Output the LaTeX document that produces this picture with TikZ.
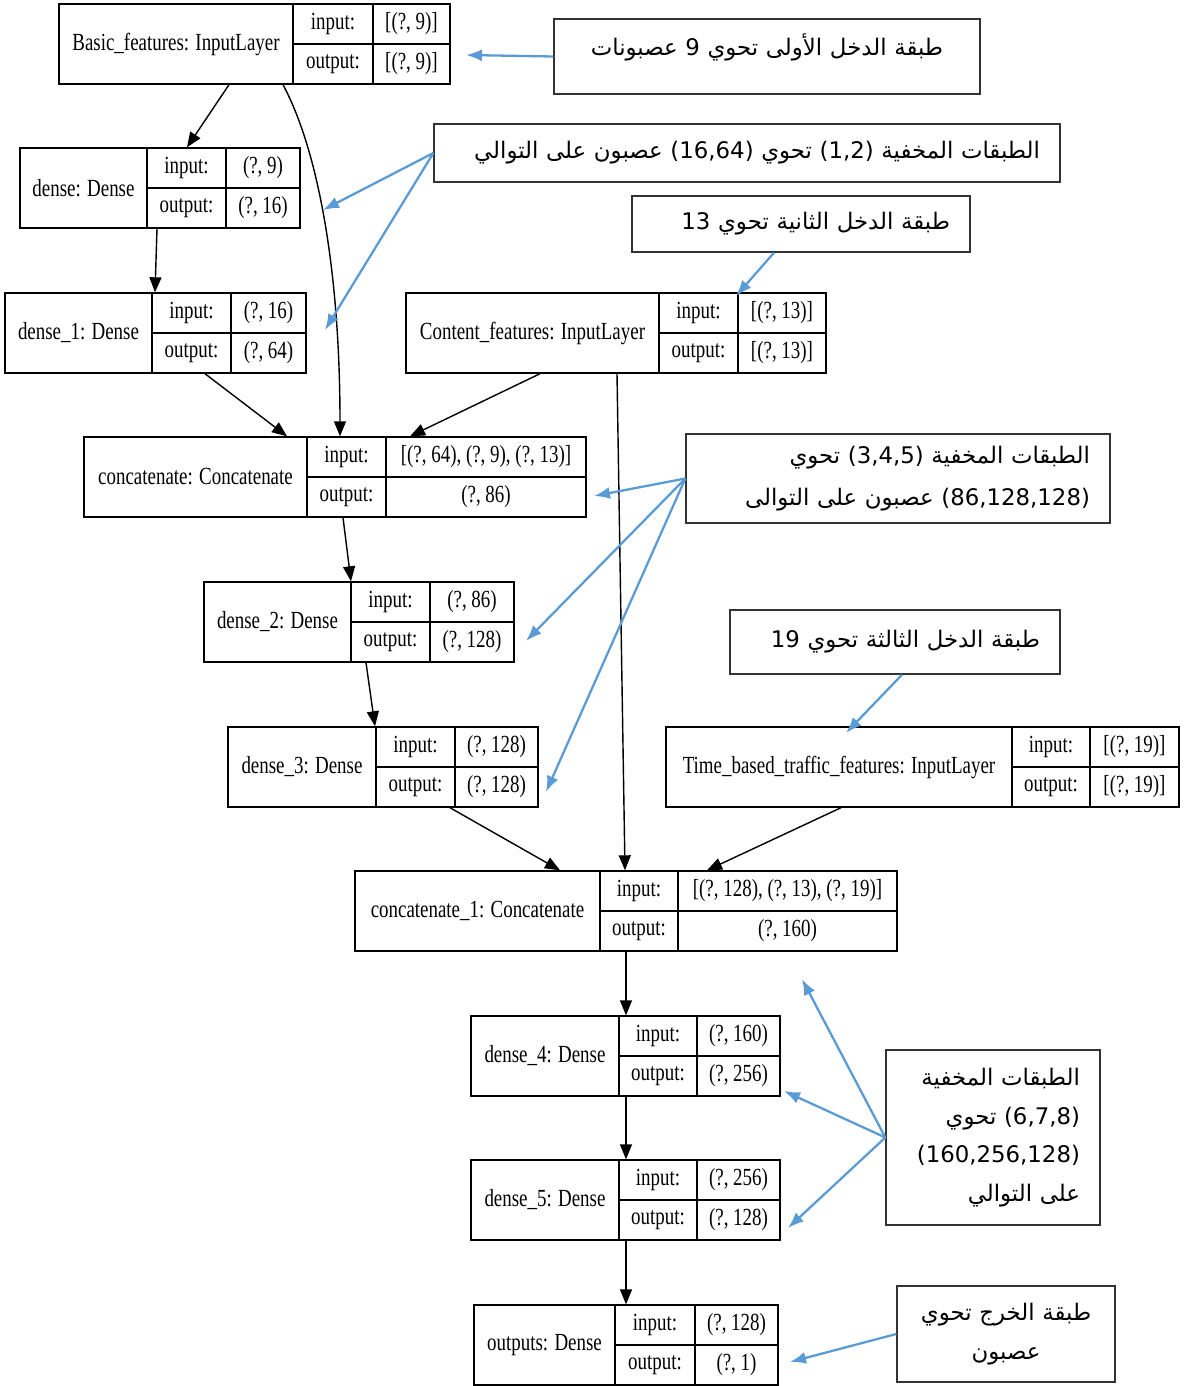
\documentclass[tikz,border=0pt]{standalone}
\usepackage{fontspec}
\usepackage{tikz}
\usetikzlibrary{arrows.meta}
\TeXXeTstate=1
\newfontfamily\lyrfont{Liberation Serif}
\newfontfamily\arabicfont[Script=Arabic]{DejaVu Sans}
\newfontfamily\numfont{DejaVu Sans}
\definecolor{noteblue}{HTML}{5B9BD5}
\newcommand{\lyrtext}[1]{\scalebox{0.77}[1]{#1}}
\newcommand{\arnum}[1]{\beginL{\numfont #1}\endL{}}
% #1 name, #2 left, #3 top, #4 #5 column rules, #6 right, #7 title, #8 input, #9 output
\newcommand{\kerasnode}[9]{%
  \node[outerbox, minimum width={(#6-#2)*0.02cm}] (#1) at ({(#2+#6)/2},{#3+40}) {};
  \node[lyr] (#1-name) at ({(#2+#4)/2},{#3+40}) {\lyrtext{#7}};
  \draw[cellline] (#4,#3) -- (#4,{#3+80}) (#5,#3) -- (#5,{#3+80}) (#4,{#3+40}) -- (#6,{#3+40});
  \node[lyr] (#1-in) at ({(#4+#5)/2},{#3+20}) {\lyrtext{input:}};
  \node[lyr] (#1-out) at ({(#4+#5)/2},{#3+60}) {\lyrtext{output:}};
  \node[lyr] (#1-inval) at ({(#5+#6)/2},{#3+20}) {\lyrtext{#8}};
  \node[lyr] (#1-outval) at ({(#5+#6)/2},{#3+60}) {\lyrtext{#9}};
}

\begin{document}
\begin{tikzpicture}[
    x=0.02cm, y=-0.02cm,
    outerbox/.style={draw, line width=0.8pt, minimum height=1.6cm, inner sep=0pt},
    cellline/.style={line width=0.8pt},
    lyr/.style={inner sep=0pt, font=\lyrfont\fontsize{14}{16}\selectfont},
    flow/.style={line width=0.8pt, -{Triangle[length=0.3cm, width=0.24cm]}},
    hint/.style={draw=noteblue, line width=1.3pt, -{Latex[length=0.32cm, width=0.24cm]}},
    note/.style={draw=black!80, line width=0.8pt, inner xsep=0.4cm, inner ysep=0pt, align=right,
        font=\arabicfont\fontsize{13}{22}\selectfont}
]
\useasboundingbox (0,0) rectangle (1190,1386);

\kerasnode{basic}{59}{4}{293}{373}{450}{Basic\_features: InputLayer}{[(?, 9)]}{[(?, 9)]}
\kerasnode{dense}{20}{148}{147}{226}{300}{dense: Dense}{(?, 9)}{(?, 16)}
\kerasnode{denseone}{5}{293}{152}{231}{306}{dense\_1: Dense}{(?, 16)}{(?, 64)}
\kerasnode{content}{406}{293}{659}{738}{826}{Content\_features: InputLayer}{[(?, 13)]}{[(?, 13)]}
\kerasnode{concat}{84}{437}{307}{386}{586}{concatenate: Concatenate}{[(?, 64), (?, 9), (?, 13)]}{(?, 86)}
\kerasnode{densetwo}{204}{582}{351}{430}{514}{dense\_2: Dense}{(?, 86)}{(?, 128)}
\kerasnode{densethree}{228}{727}{376}{455}{538}{dense\_3: Dense}{(?, 128)}{(?, 128)}
\kerasnode{timebased}{666}{727}{1012}{1090}{1179}{Time\_based\_traffic\_features: InputLayer}{[(?, 19)]}{[(?, 19)]}
\kerasnode{concatone}{355}{871}{600}{678}{897}{concatenate\_1: Concatenate}{[(?, 128), (?, 13), (?, 19)]}{(?, 160)}
\kerasnode{densefour}{471}{1016}{619}{697}{780}{dense\_4: Dense}{(?, 160)}{(?, 256)}
\kerasnode{densefive}{471}{1160}{619}{697}{780}{dense\_5: Dense}{(?, 256)}{(?, 128)}
\kerasnode{outputs}{474}{1305}{615}{695}{778}{outputs: Dense}{(?, 128)}{(?, 1)}

\draw[flow] (basic.south -| 229,0) -- (dense.north -| 187,0);
\draw[flow] (basic.south -| 283,0) .. controls (318,150) and (340,270) .. (concat.north -| 340,0);
\draw[flow] (dense.south -| 157,0) -- (denseone.north -| 155,0);
\draw[flow] (denseone.south -| 205,0) -- (concat.north -| 287,0);
\draw[flow] (content.south -| 540,0) -- (concat.north -| 410,0);
\draw[flow] (content.south -| 617,0) -- (concatone.north -| 625,0);
\draw[flow] (concat.south -| 343,0) -- (densetwo.north -| 351,0);
\draw[flow] (densetwo.south -| 366,0) -- (densethree.north -| 375,0);
\draw[flow] (densethree.south -| 450,0) -- (concatone.north -| 560,0);
\draw[flow] (timebased.south -| 841,0) -- (concatone.north -| 707,0);
\draw[flow] (concatone.south -| 626,0) -- (densefour.north -| 626,0);
\draw[flow] (densefour.south -| 626,0) -- (densefive.north -| 626,0);
\draw[flow] (densefive.south -| 626,0) -- (outputs.north -| 626,0);

\node[note, align=center, text width=7.72cm, minimum height=1.5cm, text depth=0.46cm] (noteA) at (767,56.5)
    {\beginR طبقة الدخل الأولى تحوي \arnum{9} عصبونات\endR};
\node[note, text width=11.72cm, minimum height=1.16cm] (noteB) at (747,153)
    {\beginR الطبقات المخفية \arnum{(1,2)} تحوي \arnum{(16,64)} عصبون على التوالي\endR};
\node[note, text width=5.96cm, minimum height=1.12cm] (noteC) at (801,224)
    {\beginR طبقة الدخل الثانية تحوي \arnum{13}\endR};
\node[note, text width=7.68cm, minimum height=1.78cm, font=\arabicfont\fontsize{13}{23.5}\selectfont] (noteD) at (898,478.5)
    {\beginR الطبقات المخفية \arnum{(3,4,5)} تحوي\endR\\\beginR\arnum{(86,128,128)} عصبون على التوالى\endR};
\node[note, text width=5.8cm, minimum height=1.28cm] (noteE) at (895,642)
    {\beginR طبقة الدخل الثالثة تحوي \arnum{19}\endR};
\node[note, text width=3.48cm, minimum height=3.5cm] (noteF) at (993,1137.5)
    {\beginR الطبقات المخفية\endR\\\beginR\arnum{(6,7,8)} تحوي\endR\\\beginR\arnum{(160,256,128)}\endR\\\beginR على التوالي\endR};
\node[note, align=center, text width=3.56cm, minimum height=1.92cm] (noteG) at (1006,1334)
    {\beginR طبقة الخرج تحوي\endR\\\beginR عصبون\endR};

\coordinate (tipA) at (466,55);
\coordinate (tipBone) at (323,210);
\coordinate (tipBtwo) at (325,330);
\coordinate (tipC) at (736,296);
\coordinate (tipDone) at (594,496);
\coordinate (tipDtwo) at (526,641);
\coordinate (tipDthree) at (546,792);
\coordinate (tipE) at (846,733);
\coordinate (tipFone) at (802,979);
\coordinate (tipFtwo) at (784,1091);
\coordinate (tipFthree) at (788,1228);
\coordinate (tipG) at (790,1362);

\draw[hint] (noteA.west) -- (tipA);
\draw[hint] (noteB.west) -- (tipBone);
\draw[hint] (noteB.west) -- (tipBtwo);
\draw[hint] (noteC.south -| 774,0) -- (tipC);
\draw[hint] (noteD.west) -- (tipDone);
\draw[hint] (noteD.west) -- (tipDtwo);
\draw[hint] (noteD.west) -- (tipDthree);
\draw[hint] (noteE.south -| 902,0) -- (tipE);
\draw[hint] (noteF.west) -- (tipFone);
\draw[hint] (noteF.west) -- (tipFtwo);
\draw[hint] (noteF.west) -- (tipFthree);
\draw[hint] (noteG.west) -- (tipG);
\end{tikzpicture}
\end{document}
